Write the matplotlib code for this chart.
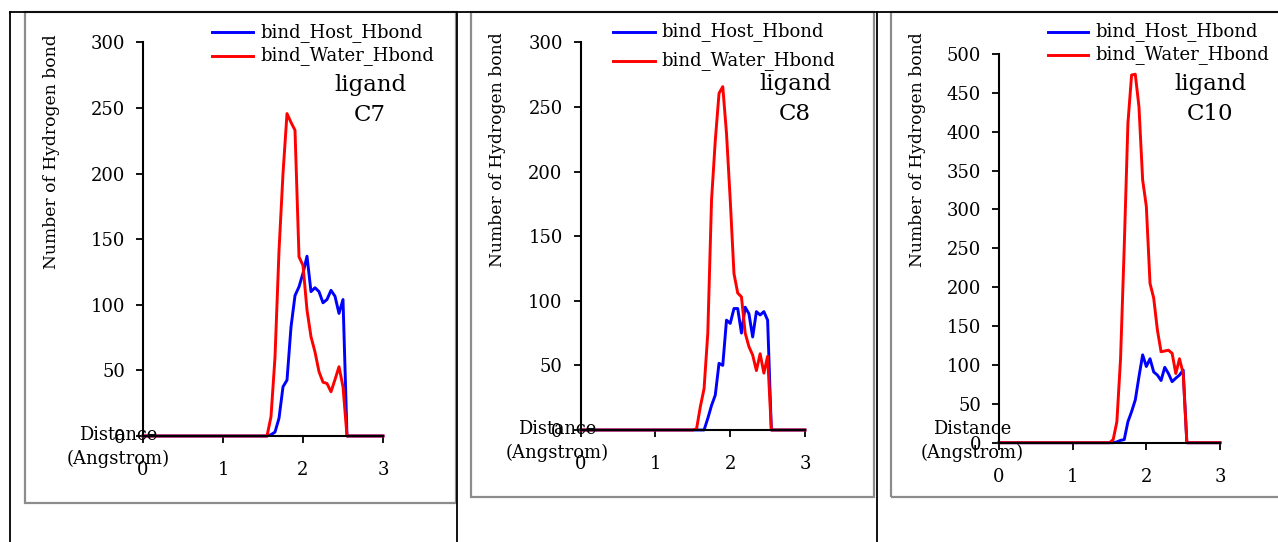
import matplotlib
matplotlib.use("Agg")
import matplotlib.pyplot as plt
from matplotlib.patches import Rectangle
from matplotlib.lines import Line2D

plt.rcParams['font.family'] = ['DejaVu Serif']

# ---------------- data ----------------
dist = [0, 1.5, 1.55, 1.6, 1.65, 1.7, 1.75, 1.8, 1.85, 1.9, 1.95, 2.0, 2.05,
        2.1, 2.15, 2.2, 2.25, 2.3, 2.35, 2.4, 2.45, 2.5, 2.55, 2.6, 3.0]

c7_host = [0, 0, 0, 1, 3, 13.5, 37.5, 42.6, 83, 107, 113.7, 124, 137,
           110, 113, 110, 101.5, 104, 111, 106.5, 93.4, 104, 0, 0, 0]
c7_water = [0, 0, 0, 14.7, 60, 141, 200, 245.7, 239, 233, 136.5, 130, 96,
            75.6, 64, 49, 41, 40, 33.7, 43, 52.8, 37.5, 0, 0, 0]

c8_host = [0, 0, 0, 0, 0, 9, 19, 27, 51.6, 50, 85, 82.5, 94,
           94, 75, 95, 90, 72, 91.6, 89, 91.6, 85, 0, 0, 0]
c8_water = [0, 0, 1, 18, 32, 75, 178, 224, 260.5, 265.7, 229.6, 178, 121,
            106, 103, 75, 64.5, 58, 46, 59, 44, 57, 0, 0, 0]

c10_host = [0, 0, 0, 1, 3, 4, 27, 40, 55, 85, 113, 98, 108,
            91, 87, 80, 97, 89, 78.5, 83, 87, 93.5, 0, 0, 0]
c10_water = [0, 0, 4, 27, 108, 252, 411, 473, 474, 432, 338, 304, 205,
             186, 145, 117, 118, 119, 115, 89, 108, 89, 0, 0, 0]

series_labels = ["bind_Host_Hbond", "bind_Water_Hbond"]
ligands = ["C7", "C8", "C10"]
x_ticks = [0, 1, 2, 3]
y_ticks_300 = [0, 50, 100, 150, 200, 250, 300]
y_ticks_500 = [0, 50, 100, 150, 200, 250, 300, 350, 400, 450, 500]

# ---------------- layout ----------------
W, H = 1278, 542
fig = plt.figure(figsize=(W / 100, H / 100), dpi=100)


def fx(x):
    return x / W


def fy(y):
    return 1 - y / H


def add_rect(x0, y0, x1, y1, color, lw):
    fig.patches.append(Rectangle((fx(x0), fy(y1)), fx(x1) - fx(x0), fy(y0) - fy(y1),
                                 transform=fig.transFigure, fill=False,
                                 edgecolor=color, linewidth=lw, zorder=0))


def add_line(x0, y0, x1, y1, color='black', lw=1.3):
    fig.lines.append(Line2D([fx(x0), fx(x1)], [fy(y0), fy(y1)],
                            transform=fig.transFigure, color=color, linewidth=lw))


# grey chart frames
add_rect(25, 12, 456, 503, '#8c8c8c', 1.6)
add_rect(471, 12, 874, 497, '#8c8c8c', 1.6)
add_rect(891, 12, 1290, 497, '#8c8c8c', 1.6)
# black table lines
add_line(10, 12, 1278, 12)
add_line(10, 12, 10, 542)
add_line(457, 12, 457, 542)
add_line(877, 12, 877, 542)

panels = [
    dict(rect=(143, 42.3, 383, 436), host=c7_host, water=c7_water, ymax=300,
         yticks=y_ticks_300, lig=ligands[0], ylab=(52, 152),
         leg=(212, 253, 260, 32.3, 55.7), ligpos=(370, 85, 115), dist=(118, 435, 459)),
    dict(rect=(580.7, 42.3, 805, 430), host=c8_host, water=c8_water, ymax=300,
         yticks=y_ticks_300, lig=ligands[1], ylab=(497, 150),
         leg=(613, 655, 661.7, 32, 61), ligpos=(795, 84, 114), dist=(557, 429, 453)),
    dict(rect=(999, 54, 1220, 442.7), host=c10_host, water=c10_water, ymax=500,
         yticks=y_ticks_500, lig=ligands[2], ylab=(917, 150),
         leg=(1048, 1088, 1095.7, 32, 55), ligpos=(1210, 84, 114), dist=(972, 429, 453)),
]

for p in panels:
    l, t, r, b = p['rect']
    ax = fig.add_axes([fx(l), fy(b), fx(r) - fx(l), fy(t) - fy(b)])
    ax.plot(dist, p['host'], color='#0000ff', lw=2.1, label=series_labels[0], clip_on=False)
    ax.plot(dist, p['water'], color='#ff0000', lw=2.1, label=series_labels[1], clip_on=False)
    ax.set_xlim(0, 3)
    ax.set_ylim(0, p['ymax'])
    ax.set_xticks(x_ticks)
    ax.set_yticks(p['yticks'])
    ax.tick_params(axis='both', direction='out', length=5, width=1.3,
                   labelsize=13, colors='black')
    ax.tick_params(axis='x', pad=13)
    ax.tick_params(axis='y', pad=8)
    for s in ['top', 'right']:
        ax.spines[s].set_visible(False)
    for s in ['left', 'bottom']:
        ax.spines[s].set_linewidth(1.5)
    ax.patch.set_alpha(0)

    # y label
    fig.text(fx(p['ylab'][0]), fy(p['ylab'][1]), "Number of Hydrogen bond",
             rotation=90, ha='center', va='center', fontsize=12.3)
    # legend (manual, in figure coords)
    x0, x1, xt, r1, r2 = p['leg']
    for yy, col, lab in [(r1, '#0000ff', series_labels[0]), (r2, '#ff0000', series_labels[1])]:
        add_line(x0, yy, x1, yy, color=col, lw=2.1)
        fig.text(fx(xt), fy(yy), lab, ha='left', va='center', fontsize=13)
    # ligand annotation
    lx, ly1, ly2 = p['ligpos']
    fig.text(fx(lx), fy(ly1), "ligand", ha='center', va='center', fontsize=16.5)
    fig.text(fx(lx), fy(ly2), p['lig'], ha='center', va='center', fontsize=16.5)
    # distance label
    dx, dy1, dy2 = p['dist']
    fig.text(fx(dx), fy(dy1), "Distance", ha='center', va='center', fontsize=12.8)
    fig.text(fx(dx), fy(dy2), "(Angstrom)", ha='center', va='center', fontsize=13)

fig.savefig("out.png", dpi=100, facecolor='white')
